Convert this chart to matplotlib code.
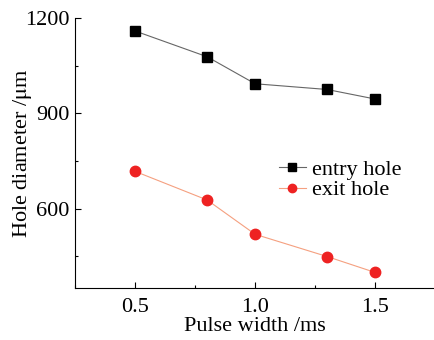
import matplotlib
matplotlib.use('Agg')
import matplotlib.pyplot as plt
from matplotlib.ticker import MultipleLocator

pulse_width = [0.5, 0.8, 1.0, 1.3, 1.5]
entry_hole = [1159, 1078, 993, 975, 945]
exit_hole = [717, 627, 519, 449, 399]

plt.rcParams['font.family'] = ['Liberation Serif', 'DejaVu Serif']
plt.rcParams['mathtext.fontset'] = 'stix'

fig = plt.figure(figsize=(4.35, 3.4), dpi=100)
ax = fig.add_axes([0.173, 0.153, 0.827, 0.794])

ax.plot(pulse_width, entry_hole, color='#666666', lw=0.8, marker='s', ms=7,
        mfc='black', mec='black', label='entry hole')
ax.plot(pulse_width, exit_hole, color='#f5a080', lw=0.8, marker='o', ms=7.5,
        mfc='#ee2222', mec='#ee2222', label='exit hole')

ax.set_xlim(0.25, 1.75)
ax.set_ylim(350, 1200)
ax.xaxis.set_major_locator(MultipleLocator(0.5))
ax.xaxis.set_minor_locator(MultipleLocator(0.25))
ax.yaxis.set_minor_locator(MultipleLocator(150))
ax.set_yticks([600, 900, 1200])
ax.tick_params(which='major', direction='in', length=4, width=0.8, labelsize=16, pad=4)
ax.tick_params(axis='x', which='major', pad=7)
ax.tick_params(which='minor', direction='in', length=2.5, width=0.8)

ax.spines['top'].set_visible(False)
ax.spines['right'].set_visible(False)

ax.set_xlabel('Pulse width /ms', fontsize=16, labelpad=0)
ax.set_ylabel('Hole diameter /$\\mathrm{\\mu}$m', fontsize=16)
ax.yaxis.set_label_coords(-0.115, 0.5)

ax.legend(loc='upper left', bbox_to_anchor=(0.542, 0.51), frameon=False,
          fontsize=16, handlelength=1.2, handletextpad=0.3, labelspacing=0.0,
          borderaxespad=0, markerscale=0.8)

fig.savefig('out.png', dpi=100)
